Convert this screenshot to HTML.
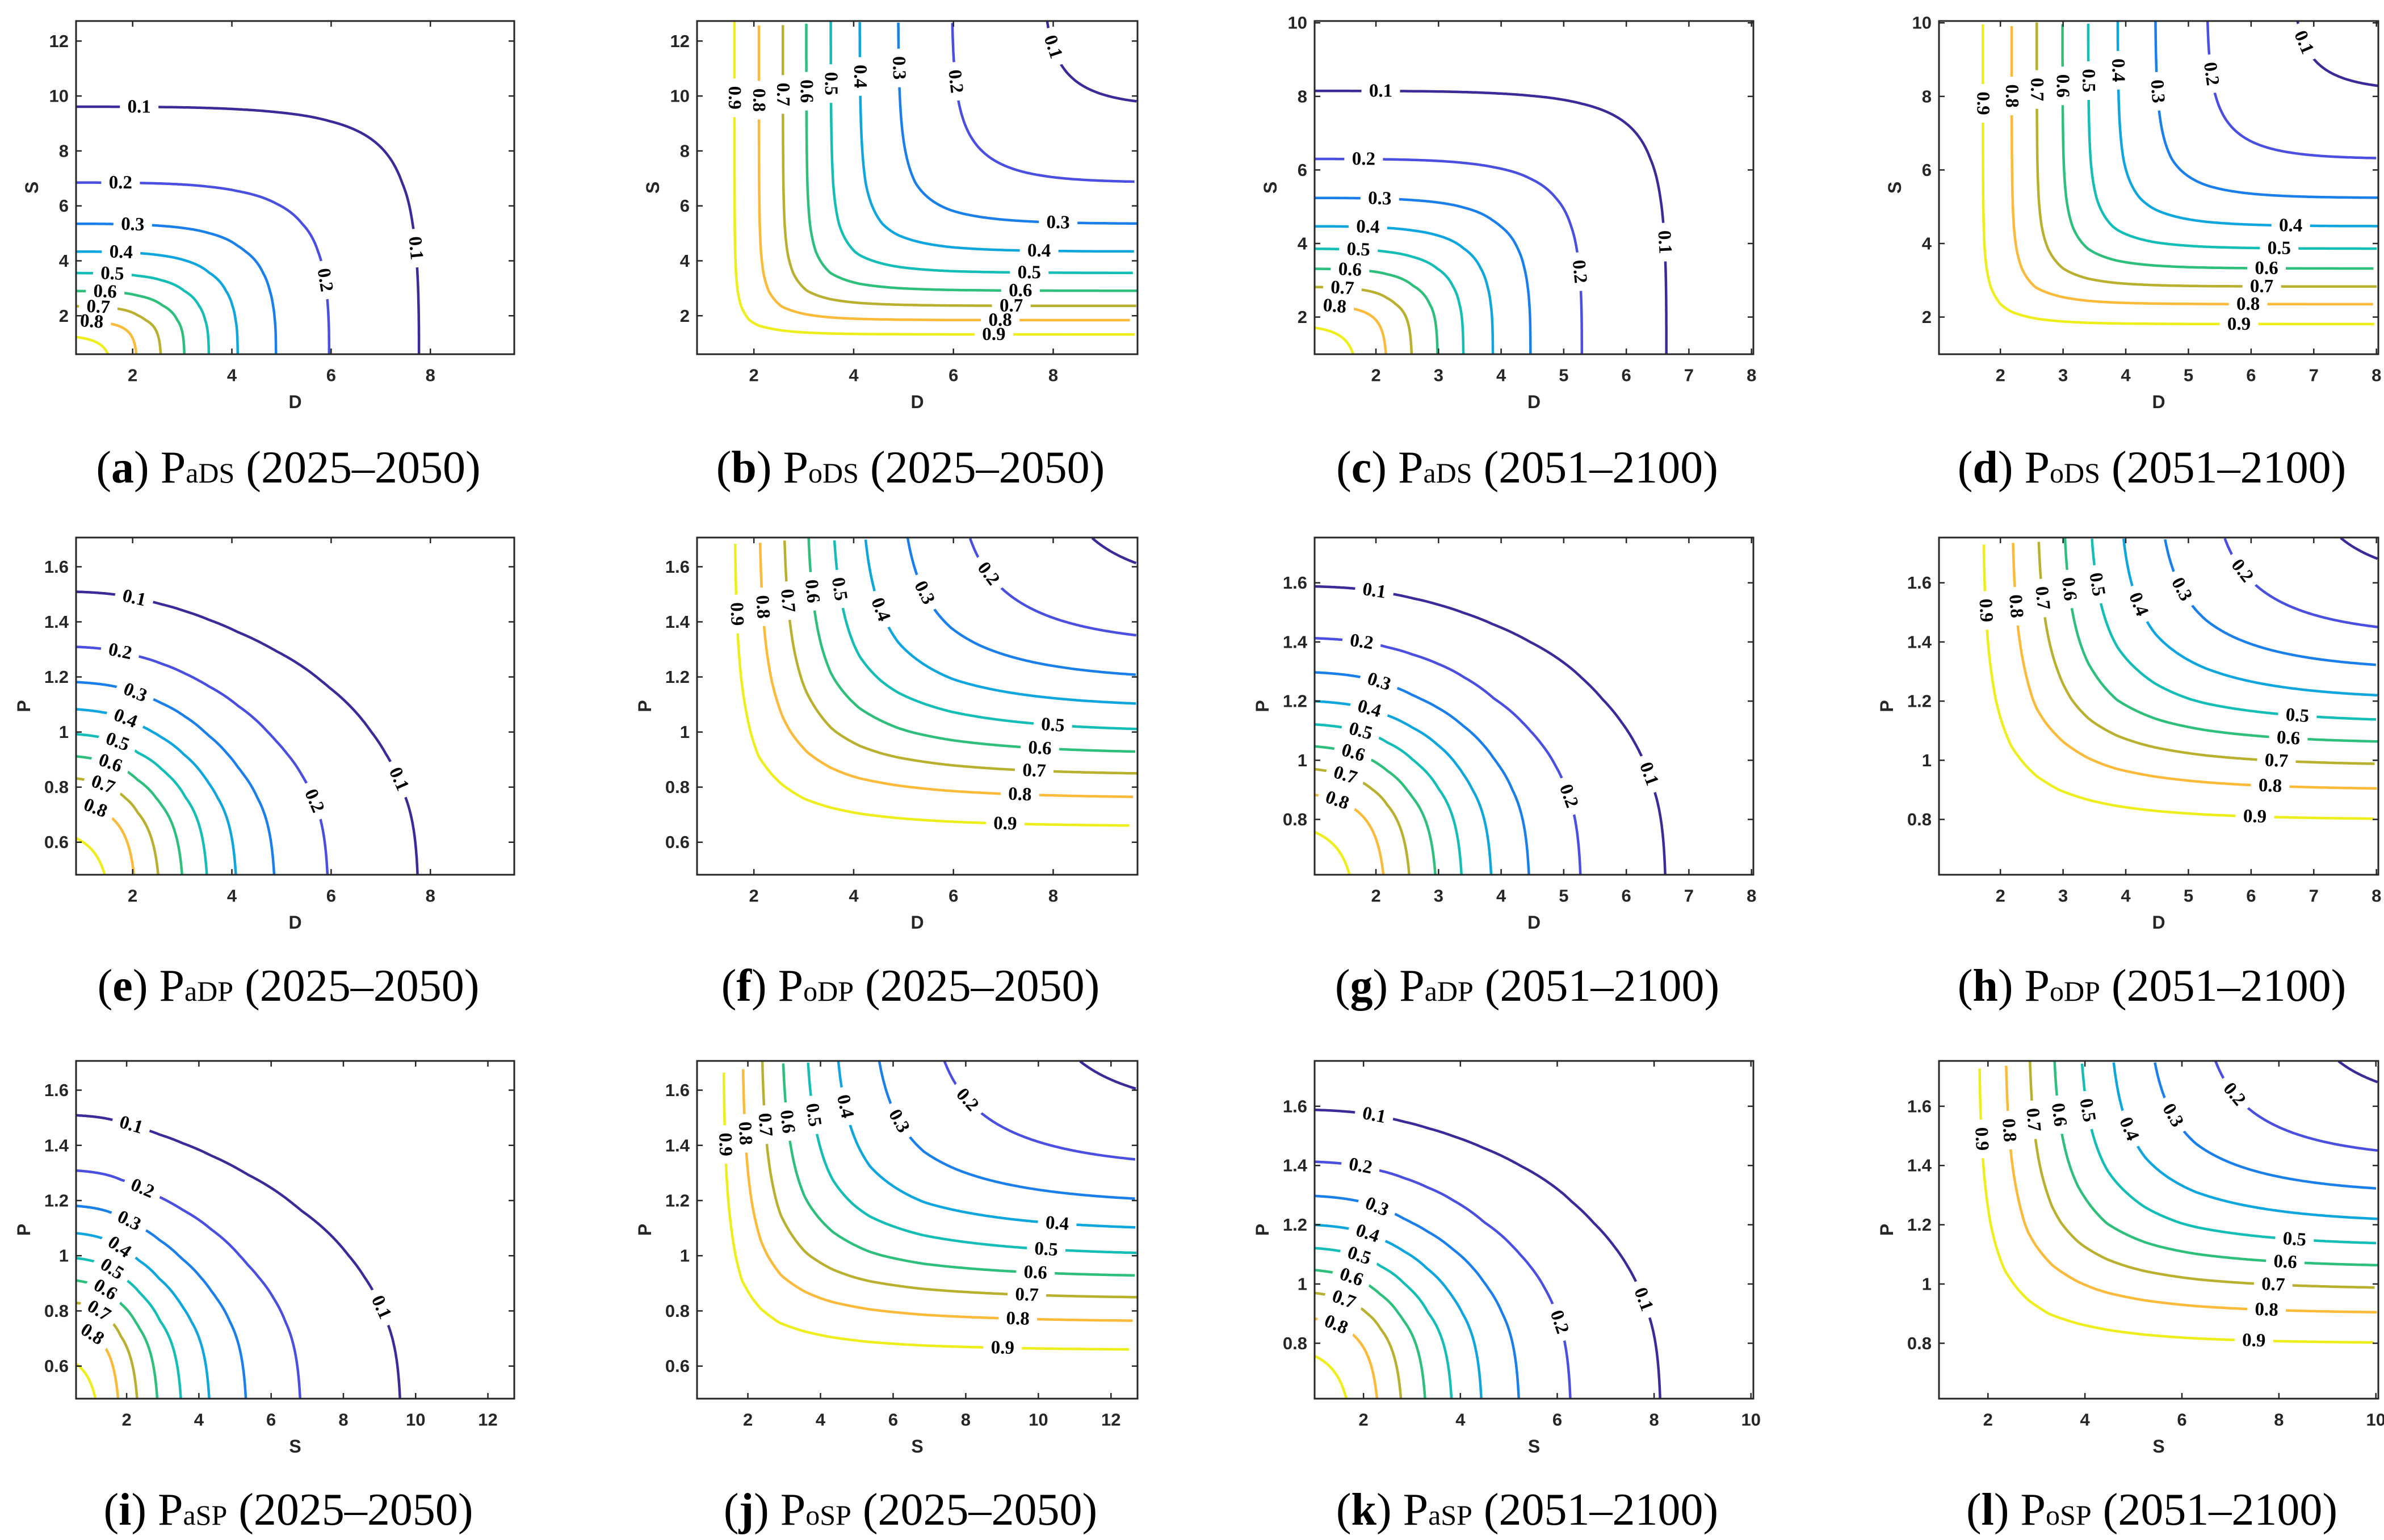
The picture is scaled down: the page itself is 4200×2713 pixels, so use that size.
<!DOCTYPE html>
<html><head><meta charset="utf-8"><style>
html,body{margin:0;padding:0;background:#fff;}
svg{display:block;}
</style></head><body>
<svg id="fig" xmlns="http://www.w3.org/2000/svg" width="4200" height="2713" viewBox="0 0 4200 2713"></svg>
<script>
const LEVELS=[0.1,0.2,0.3,0.4,0.5,0.6,0.7,0.8,0.9];
const LEVEL_LABELS=["0.1","0.2","0.3","0.4","0.5","0.6","0.7","0.8","0.9"];
// marginal quantiles (value at which exceedance probability equals each level)
const D25=[7.77,5.96,4.89,4.12,3.54,3.05,2.58,2.10,1.61];
const S25=[9.61,6.85,5.35,4.34,3.56,2.91,2.36,1.84,1.32];
const P25=[1.513,1.314,1.187,1.090,1.001,0.922,0.845,0.761,0.658];
const D51=[6.64,5.29,4.47,3.87,3.40,2.99,2.58,2.18,1.72];
const S51=[8.15,6.30,5.24,4.47,3.86,3.32,2.83,2.35,1.81];
const P51=[1.591,1.417,1.303,1.206,1.129,1.057,0.983,0.901,0.800];
const THETA_DS=2.5, THETA_DP=1.2, THETA_SP=1.2;
const TICKS_D25=[2,4,6,8], TICKS_S25=[2,4,6,8,10,12], TICKS_P25=[0.6,0.8,1,1.2,1.4,1.6];
const TICKS_D51=[2,3,4,5,6,7,8], TICKS_S51=[2,4,6,8,10], TICKS_P51=[0.8,1,1.2,1.4,1.6];
const COLORS=["#3b2a98","#4a4fe0","#1b7fea","#0ea6dc","#14bdb5","#2fbf7c","#b8b02e","#fbba3a","#eeee1c"];

const NS="http://www.w3.org/2000/svg";
const svg=document.getElementById('fig');
function el(tag,attrs,parent){const e=document.createElementNS(NS,tag);for(const k in attrs)e.setAttribute(k,attrs[k]);(parent||svg).appendChild(e);return e;}

function makeSurv(q){
  const xs=q.slice().reverse();
  const ls=LEVELS.map(p=>Math.log(p/(1-p))).reverse();
  const n=xs.length;
  return x=>{
    let i;
    if(x<=xs[0]) i=0; else if(x>=xs[n-1]) i=n-2; else {for(i=0;i<n-1;i++) if(x<=xs[i+1]) break;}
    const l=ls[i]+(ls[i+1]-ls[i])*(x-xs[i])/(xs[i+1]-xs[i]);
    return 1/(1+Math.exp(-l));
  };
}
function gumbel(u,v,t){
  u=Math.min(Math.max(u,1e-12),1-1e-12);v=Math.min(Math.max(v,1e-12),1-1e-12);
  return Math.exp(-Math.pow(Math.pow(-Math.log(u),t)+Math.pow(-Math.log(v),t),1/t));
}

const COLS=[[134,906],[1228,2004],[2316,3089],[3416,4190]];
const ROWS=[[37,624],[947,1541],[1869,2464]];
const CAPY=[822,1735,2658];
const R={D25:[0.86,9.69],S25:[0.6,12.73],P25:[0.482,1.706],D51:[1.02,8.03],S51:[0.99,10.05],P51:[0.613,1.753]};
const Q={D25,S25,P25,D51,S51,P51};
const TK={D25:TICKS_D25,S25:TICKS_S25,P25:TICKS_P25,D51:TICKS_D51,S51:TICKS_S51,P51:TICKS_P51};

const panels=[
 {id:'a',r:0,c:0,x:'D25',y:'S25',type:'and',th:THETA_DS,sub:'aDS',yr:'2025–2050'},
 {id:'b',r:0,c:1,x:'D25',y:'S25',type:'or',th:THETA_DS,sub:'oDS',yr:'2025–2050'},
 {id:'c',r:0,c:2,x:'D51',y:'S51',type:'and',th:THETA_DS,sub:'aDS',yr:'2051–2100'},
 {id:'d',r:0,c:3,x:'D51',y:'S51',type:'or',th:THETA_DS,sub:'oDS',yr:'2051–2100'},
 {id:'e',r:1,c:0,x:'D25',y:'P25',type:'and',th:THETA_DP,sub:'aDP',yr:'2025–2050'},
 {id:'f',r:1,c:1,x:'D25',y:'P25',type:'or',th:THETA_DP,sub:'oDP',yr:'2025–2050'},
 {id:'g',r:1,c:2,x:'D51',y:'P51',type:'and',th:THETA_DP,sub:'aDP',yr:'2051–2100'},
 {id:'h',r:1,c:3,x:'D51',y:'P51',type:'or',th:THETA_DP,sub:'oDP',yr:'2051–2100'},
 {id:'i',r:2,c:0,x:'S25',y:'P25',type:'and',th:THETA_SP,sub:'aSP',yr:'2025–2050'},
 {id:'j',r:2,c:1,x:'S25',y:'P25',type:'or',th:THETA_SP,sub:'oSP',yr:'2025–2050'},
 {id:'k',r:2,c:2,x:'S51',y:'P51',type:'and',th:THETA_SP,sub:'aSP',yr:'2051–2100'},
 {id:'l',r:2,c:3,x:'S51',y:'P51',type:'or',th:THETA_SP,sub:'oSP',yr:'2051–2100'}
];

const defs=el('defs',{});
panels.forEach(pn=>{
  const [L,Rt]=COLS[pn.c],[T,B]=ROWS[pn.r];
  const W=Rt-L,H=B-T;
  const [x0,x1]=R[pn.x],[y0,y1]=R[pn.y];
  const sx=v=>L+(v-x0)/(x1-x0)*W, sy=v=>B-(v-y0)/(y1-y0)*H;
  const Sx=makeSurv(Q[pn.x]), Sy=makeSurv(Q[pn.y]);
  const prob=(x,y)=>{const u=1-Sx(x),v=1-Sy(y),C=gumbel(u,v,pn.th);return pn.type==='and'?1-u-v+C:1-C;};
  const g=el('g',{});
  
  
  const cp=el('clipPath',{id:'clip'+pn.id},defs);
  el('rect',{x:L,y:T,width:W,height:H},cp);
  el('rect',{x:L,y:T,width:W,height:H,fill:'#fff'},g);
  const lines=el('g',{'clip-path':'url(#clip'+pn.id+')'},g);
  const labels=[];
  LEVELS.forEach((p,li)=>{
    const pts=[];
    const N=500;
    for(let k=0;k<=N;k++){
      const phi=k/N*Math.PI/2;
      const cx=Math.cos(phi),cy=Math.sin(phi);
      const tmax=1/Math.max(cx,cy);
      const at=t=>prob(x0+t*cx*(x1-x0),y0+t*cy*(y1-y0))-p;
      if(at(0)<0||at(tmax)>0) continue;
      let a=0,b=tmax;
      for(let it=0;it<40;it++){const m=(a+b)/2;if(at(m)>0)a=m;else b=m;}
      const t=(a+b)/2;
      pts.push([sx(x0+t*cx*(x1-x0)),sy(y0+t*cy*(y1-y0))]);
    }
    if(pts.length<2) return;
    const path=el('path',{d:'M'+pts.map(q=>q[0].toFixed(1)+','+q[1].toFixed(1)).join('L'),fill:'none',stroke:COLORS[li],'stroke-width':4.5,'stroke-linejoin':'round'},lines);
    
    
    let len=0;for(let k=1;k<pts.length;k++)len+=Math.hypot(pts[k][0]-pts[k-1][0],pts[k][1]-pts[k-1][1]);
    const fr=len>650?[0.2,0.88]:[0.8];
    fr.forEach(f=>{
      let target=f*len,acc=0,k=1;
      for(;k<pts.length;k++){const d=Math.hypot(pts[k][0]-pts[k-1][0],pts[k][1]-pts[k-1][1]);if(acc+d>=target)break;acc+=d;}
      k=Math.min(k,pts.length-1);
      const a=pts[Math.max(0,k-4)],b=pts[Math.min(pts.length-1,k+4)];
      let ang=Math.atan2(b[1]-a[1],b[0]-a[0])*180/Math.PI;
      while(ang>90)ang-=180;while(ang<=-90)ang+=180;
      const px=pts[k][0],py=pts[k][1];
      if(px<L+25||px>Rt-25||py<T+20||py>B-20) return;
      labels.push({px,py,ang,t:LEVEL_LABELS[li]});
    });
  });
  labels.forEach(lb=>{
    el('rect',{x:lb.px-34,y:lb.py-18,width:68,height:36,fill:'#fff',transform:`rotate(${lb.ang.toFixed(1)} ${lb.px.toFixed(1)} ${lb.py.toFixed(1)})`},g);
  });
  labels.forEach(lb=>{
    const t=el('text',{x:lb.px.toFixed(1),y:lb.py.toFixed(1),'text-anchor':'middle','dominant-baseline':'central','font-family':'"Liberation Serif",serif','font-weight':'bold','font-size':33,fill:'#000',transform:`rotate(${lb.ang.toFixed(1)} ${lb.px.toFixed(1)} ${lb.py.toFixed(1)})`},g);
    t.textContent=lb.t;
    
    
  });
  const box=el('rect',{x:L,y:T,width:W,height:H,fill:'none',stroke:'#262626','stroke-width':3},g);
  
  
  const tf='"Liberation Sans",sans-serif';
  TK[pn.x].forEach(v=>{
    const X=sx(v);if(X<L-1||X>Rt+1)return;
    el('line',{x1:X,y1:B,x2:X,y2:B-10,stroke:'#262626','stroke-width':2.5},g);
    el('line',{x1:X,y1:T,x2:X,y2:T+10,stroke:'#262626','stroke-width':2.5},g);
    const t=el('text',{x:X,y:B+37,'text-anchor':'middle','dominant-baseline':'central','font-family':tf,'font-weight':'bold','font-size':31,fill:'#262626'},g);
    t.textContent=String(v);
    
    
  });
  TK[pn.y].forEach(v=>{
    const Y=sy(v);if(Y<T-1||Y>B+1)return;
    el('line',{x1:L,y1:Y,x2:L+10,y2:Y,stroke:'#262626','stroke-width':2.5},g);
    el('line',{x1:Rt,y1:Y,x2:Rt-10,y2:Y,stroke:'#262626','stroke-width':2.5},g);
    const t=el('text',{x:L-13,y:Y,'text-anchor':'end','dominant-baseline':'central','font-family':tf,'font-weight':'bold','font-size':31,fill:'#262626'},g);
    t.textContent=String(v);
    
    
  });
  const xl=el('text',{x:(L+Rt)/2,y:B+84,'text-anchor':'middle','dominant-baseline':'central','font-family':tf,'font-weight':'bold','font-size':32,fill:'#262626'},g);
  xl.textContent=pn.x[0];
  
  
  const yx=pn.y[0]==='P'?L-92:L-78, ym=(T+B)/2;
  const yl=el('text',{x:yx,y:ym,'text-anchor':'middle','dominant-baseline':'central','font-family':tf,'font-weight':'bold','font-size':32,fill:'#262626',transform:`rotate(-90 ${yx} ${ym})`},g);
  yl.textContent=pn.y[0];
  
  
  const cap=el('text',{x:(L+Rt)/2-12,y:CAPY[pn.r]+28,'text-anchor':'middle','font-family':'"Liberation Serif",serif','font-size':80,fill:'#000'},g);
  
  
  const s1=el('tspan',{},cap);s1.textContent='(';
  const s2=el('tspan',{'font-weight':'bold'},cap);s2.textContent=pn.id;
  const s3=el('tspan',{},cap);s3.textContent=') P';
  const s4=el('tspan',{'font-size':50},cap);s4.textContent=pn.sub;
  const s5=el('tspan',{},cap);s5.textContent=' ('+pn.yr+')';
});
</script>
</body></html>
